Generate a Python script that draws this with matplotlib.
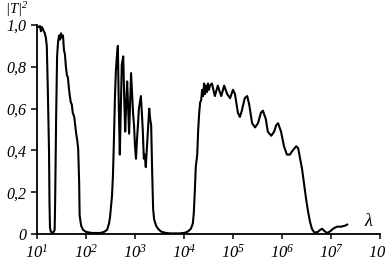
import numpy as np
import matplotlib
matplotlib.use("Agg")
import matplotlib.pyplot as plt
from matplotlib.ticker import FixedLocator, FixedFormatter, NullLocator

# log10(lambda) and |T|^2
log_lam = [
    1.02, 1.06, 1.08, 1.10, 1.14, 1.16, 1.18, 1.20, 1.22, 1.245, 1.255, 1.265,
    1.285, 1.33, 1.36, 1.37, 1.39, 1.41, 1.43, 1.45, 1.47, 1.49, 1.51, 1.53,
    1.55, 1.57, 1.59, 1.61, 1.63, 1.65, 1.67, 1.69, 1.71, 1.73, 1.76, 1.78,
    1.80, 1.82, 1.84, 1.86, 1.87, 1.90, 1.94, 2.00, 2.12,
    2.29, 2.37, 2.43, 2.47, 2.49, 2.53, 2.55, 2.57, 2.59, 2.61, 2.63, 2.65,
    2.67, 2.69, 2.71, 2.73, 2.76, 2.78, 2.80, 2.82, 2.84, 2.86, 2.88, 2.90,
    2.92, 2.94, 2.96, 2.98, 3.00, 3.02, 3.04, 3.06, 3.08, 3.10, 3.12, 3.14,
    3.16, 3.18, 3.20, 3.22, 3.24, 3.27, 3.29, 3.31, 3.33, 3.35, 3.37, 3.39,
    3.43, 3.47, 3.53, 3.61, 3.71, 3.92,
    4.02, 4.08, 4.14, 4.18, 4.20, 4.22, 4.24, 4.27, 4.29, 4.31, 4.33, 4.35,
    4.37, 4.39, 4.41, 4.43, 4.45, 4.47, 4.49, 4.51, 4.53, 4.57, 4.63, 4.69,
    4.73, 4.76, 4.82, 4.88, 4.94, 5.00, 5.04, 5.10, 5.14, 5.18, 5.24, 5.29,
    5.33, 5.39, 5.45, 5.51, 5.57, 5.61, 5.67, 5.71, 5.78, 5.84, 5.88, 5.92,
    5.98, 6.04, 6.10, 6.16, 6.22, 6.29, 6.33, 6.37, 6.41, 6.45, 6.49, 6.53,
    6.57, 6.61, 6.65, 6.69, 6.73, 6.78, 6.82, 6.86, 6.92, 6.98, 7.04, 7.12,
    7.20, 7.29, 7.33,
]
trans = [
    0.99, 0.995, 0.97, 0.99, 0.97, 0.96, 0.94, 0.90, 0.70, 0.40, 0.15, 0.03,
    0.01, 0.005, 0.02, 0.15, 0.55, 0.85, 0.92, 0.95, 0.93, 0.96, 0.94, 0.95,
    0.88, 0.86, 0.80, 0.76, 0.75, 0.70, 0.66, 0.63, 0.62, 0.58, 0.56, 0.52,
    0.48, 0.45, 0.41, 0.25, 0.09, 0.04, 0.02, 0.01, 0.005,
    0.005, 0.01, 0.02, 0.05, 0.08, 0.18, 0.28, 0.45, 0.65, 0.78, 0.85, 0.90,
    0.60, 0.38, 0.60, 0.81, 0.85, 0.65, 0.49, 0.62, 0.73, 0.60, 0.48, 0.62,
    0.77, 0.68, 0.58, 0.52, 0.42, 0.36, 0.45, 0.52, 0.60, 0.63, 0.66, 0.58,
    0.49, 0.36, 0.38, 0.32, 0.40, 0.52, 0.60, 0.55, 0.52, 0.30, 0.12, 0.07,
    0.04, 0.025, 0.012, 0.006, 0.003, 0.003,
    0.006, 0.012, 0.025, 0.05, 0.10, 0.20, 0.32, 0.38, 0.50, 0.58, 0.63, 0.64,
    0.69, 0.66, 0.72, 0.67, 0.71, 0.68, 0.72, 0.69, 0.71, 0.72, 0.66, 0.71,
    0.68, 0.66, 0.71, 0.67, 0.65, 0.69, 0.67, 0.58, 0.56, 0.59, 0.65, 0.66,
    0.62, 0.53, 0.51, 0.53, 0.58, 0.59, 0.55, 0.49, 0.47, 0.49, 0.52, 0.53,
    0.49, 0.42, 0.38, 0.38, 0.40, 0.42, 0.41, 0.36, 0.31, 0.24, 0.17, 0.11,
    0.06, 0.025, 0.01, 0.007, 0.01, 0.02, 0.025, 0.015, 0.005, 0.012, 0.025, 0.035,
    0.035, 0.04, 0.045,
]

x_ticks = [1e1, 1e2, 1e3, 1e4, 1e5, 1e6, 1e7, 1e8]
x_labels = [r"$10^{%d}$" % k for k in range(1, 9)]
y_ticks = [0, 0.2, 0.4, 0.6, 0.8, 1.0]
y_labels = ["0", "0,2", "0,4", "0,6", "0,8", "1,0"]

plt.rcParams["font.family"] = ["Liberation Serif", "DejaVu Serif"]
plt.rcParams["font.style"] = "italic"
plt.rcParams["mathtext.fontset"] = "custom"
plt.rcParams["mathtext.rm"] = "Liberation Serif:italic"
plt.rcParams["mathtext.it"] = "Liberation Serif:italic"

fig = plt.figure(figsize=(3.85, 2.62), dpi=100)
ax = fig.add_axes([37 / 385, 28 / 262, 343 / 385, 209 / 262])

lam = 10.0 ** np.array(log_lam)
ax.plot(lam, trans, color="black", lw=1.5, solid_joinstyle="round")

ax.set_xscale("log")
ax.set_xlim(1e1, 1e8)
ax.set_ylim(0, 1.0)
ax.xaxis.set_major_locator(FixedLocator(x_ticks))
ax.xaxis.set_major_formatter(FixedFormatter(x_labels))
ax.xaxis.set_minor_locator(NullLocator())
ax.yaxis.set_major_locator(FixedLocator(y_ticks))
ax.yaxis.set_major_formatter(FixedFormatter(y_labels))

for s in ("top", "right"):
    ax.spines[s].set_visible(False)
for s in ("left", "bottom"):
    ax.spines[s].set_linewidth(1.3)
ax.tick_params(axis="y", direction="out", length=4.5, width=1.1, pad=3, labelsize=11.5)
ax.tick_params(axis="x", direction="out", length=3.8, width=1.1, pad=3, labelsize=12)

fig.text(0.012, 1.0, r"$|T|^2$", ha="left", va="top", fontsize=10.5)
ax.text(0.965, 0.06, "λ", transform=ax.transAxes, ha="center", va="center",
        fontsize=13)

fig.savefig("out.png", dpi=100)
